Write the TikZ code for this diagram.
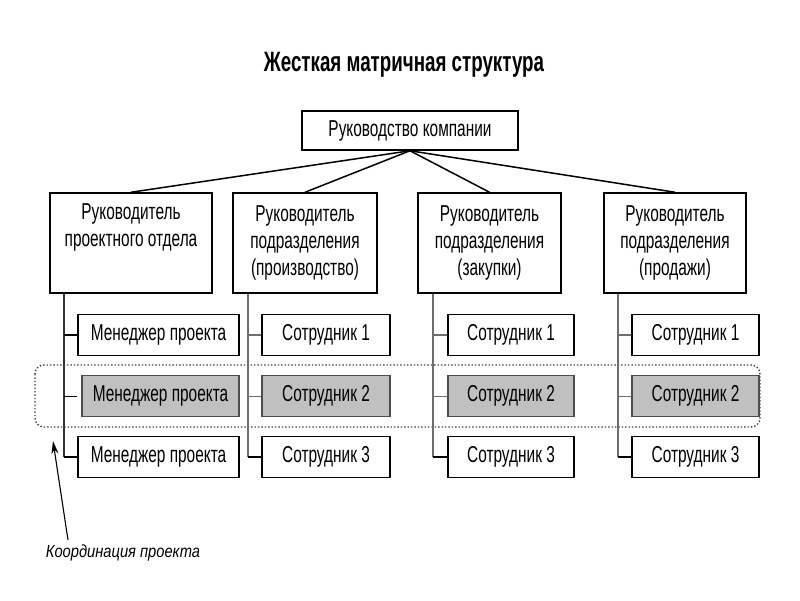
\documentclass[tikz,border=0pt]{standalone}
\usepackage{fontspec}
\newfontfamily\nf[FakeStretch=0.67]{Liberation Sans}
\newfontfamily\itf[FakeStretch=0.84]{Liberation Sans}
\usetikzlibrary{arrows.meta}
\definecolor{boxgray}{RGB}{192,192,192}
\definecolor{linegray}{RGB}{110,110,110}
\begin{document}
\begin{tikzpicture}[x=1pt,y=-1pt,
  box/.style={draw=black, line width=1.5pt, fill=white, inner sep=0pt,
    font=\nf\fontsize{23}{27}\selectfont, align=center},
  rowbox/.style={box, minimum height=41pt},
  graybox/.style={rowbox, fill=boxgray, draw=black!70},
  head/.style={box, minimum height=100pt},
  vline/.style={draw=linegray, line width=1.2pt},
  tickA/.style={draw=linegray, line width=2.2pt},
  tickB/.style={draw=linegray, line width=1pt},
  tickC/.style={draw=black, line width=2.2pt},
  fan/.style={draw=black, line width=1.5pt},
  titlestyle/.style={font=\nf\bfseries\fontsize{28}{32}\selectfont},
]
\useasboundingbox (0,0) rectangle (800,600);

% title
\node[titlestyle] (title) at (404,65) {Жесткая матричная структура};

% coordination frame
\draw[dotted, line width=1.4pt, draw=black!75, rounded corners=9pt] (35,365) rectangle (760,427);

% top box
\node[box, minimum width=216pt, minimum height=39pt] (top) at (410,130.5) {Руководство компании};

% heads
\node[head, minimum width=162pt] (h1) at (131,243) {Руководитель\\проектного отдела\\\strut};
\node[head, minimum width=144pt] (h2) at (305,243) {Руководитель\\подразделения\\(производство)};
\node[head, minimum width=143pt] (h3) at (489.5,243) {Руководитель\\подразделения\\(закупки)};
\node[head, minimum width=142pt] (h4) at (675,243) {Руководитель\\подразделения\\(продажи)};

\foreach \h in {h1,h2,h3,h4} \draw[fan] (top.south) -- (\h.north);

% column 1
\node[rowbox, minimum width=161pt] (m1) at (158.5,335) {Менеджер проекта};
\node[graybox, minimum width=157pt] (m2) at (160.5,396) {Менеджер проекта};
\node[rowbox, minimum width=161pt] (m3) at (158.5,457) {Менеджер проекта};
% column 2
\node[rowbox, minimum width=128pt] (a1) at (326,335) {Сотрудник 1};
\node[graybox, minimum width=128pt] (a2) at (326,396) {Сотрудник 2};
\node[rowbox, minimum width=128pt] (a3) at (326,457) {Сотрудник 3};
% column 3
\node[rowbox, minimum width=126pt] (b1) at (511,335) {Сотрудник 1};
\node[graybox, minimum width=126pt] (b2) at (511,396) {Сотрудник 2};
\node[rowbox, minimum width=126pt] (b3) at (511,457) {Сотрудник 3};
% column 4
\node[rowbox, minimum width=127pt] (c1) at (695.5,335) {Сотрудник 1};
\node[graybox, minimum width=127pt] (c2) at (695.5,396) {Сотрудник 2};
\node[rowbox, minimum width=127pt] (c3) at (695.5,457) {Сотрудник 3};

% vertical spines
\coordinate (v1) at (64,457);
\coordinate (v2) at (248,457);
\coordinate (v3) at (433,457);
\coordinate (v4) at (618,457);
\draw[vline, draw=black!80] (h1.south -| v1) -- (v1);
\draw[vline] (h2.south -| v2) -- (v2);
\draw[vline] (h3.south -| v3) -- (v3);
\draw[vline] (h4.south -| v4) -- (v4);

% ticks column 1
\draw[tickC] (m1.west -| v1) -- (m1.west);
\draw[draw=black, line width=1pt] (m2.west -| v1) -- ([xshift=-4pt]m2.west);
\draw[tickC] (m3.west -| v1) -- (m3.west);
% ticks other columns
\draw[tickA] (a1.west -| v2) -- (a1.west);
\draw[tickB] (a2.west -| v2) -- (a2.west);
\draw[tickC] (a3.west -| v2) -- (a3.west);
\draw[tickA] (b1.west -| v3) -- (b1.west);
\draw[tickB] (b2.west -| v3) -- (b2.west);
\draw[tickC] (b3.west -| v3) -- (b3.west);
\draw[tickA] (c1.west -| v4) -- (c1.west);
\draw[tickB] (c2.west -| v4) -- (c2.west);
\draw[tickC] (c3.west -| v4) -- (c3.west);

% coordination label and arrow
\node[font=\itf\itshape\fontsize{17.5}{20}\selectfont] (coord) at (123,553) {Координация проекта};
\coordinate (tail) at (68,540);
\coordinate (tip) at (53,441);
\draw[line width=1.1pt, -{Stealth[length=13pt,width=7pt]}] (tail) -- (tip);
\end{tikzpicture}
\end{document}
